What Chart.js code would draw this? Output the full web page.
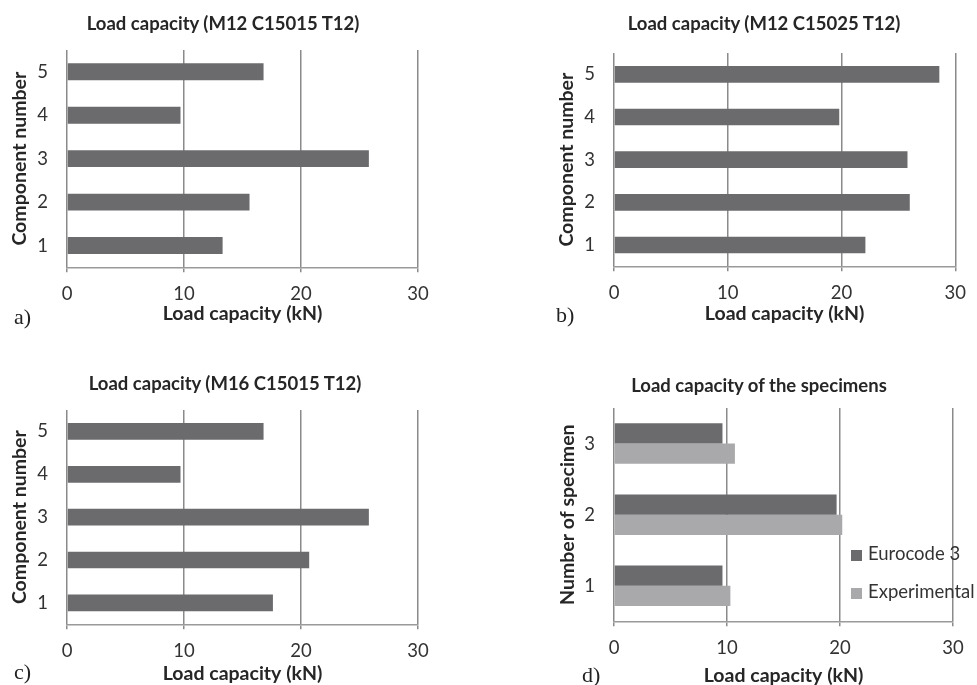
<!DOCTYPE html>
<html lang="en">
<head>
    <meta charset="UTF-8" />
    <title>Load capacity</title>
    <script src="https://cdn.jsdelivr.net/npm/chart.js"></script>
    <style>
        body {
            margin: 0;
            width: 977px;
            height: 685px;
            position: relative;
            overflow: hidden;
            background: #fff;
            font-family: Lato, sans-serif;
        }
        canvas { position: absolute; }
        .title {
            position: absolute;
            transform: translate(-50%, -50%);
            font: bold 18.5px Lato, sans-serif;
            color: #262626;
            white-space: nowrap;
            z-index: 2;
        }
        .panel {
            position: absolute;
            transform: translateY(-50%);
            font: 22px "Liberation Serif", serif;
            color: #222;
        }
        .legend-item {
            position: absolute;
            font: 18.5px Lato, sans-serif;
            color: #333;
            white-space: nowrap;
            transform: translateY(-50%);
            z-index: 2;
        }
        .legend-item span {
            display: inline-block;
            width: 11px;
            height: 11px;
            margin-right: 6px;
            vertical-align: -1px;
        }
    </style>
</head>
<body>
<script>
    // data
    const components = ['1', '2', '3', '4', '5'];
    const capacityM12C15015 = [13.3, 15.6, 25.8, 9.7, 16.8];
    const capacityM12C15025 = [22.1, 26.0, 25.8, 19.8, 28.6];
    const capacityM16C15015 = [17.6, 20.7, 25.8, 9.7, 16.8];

    const specimens = ['1', '2', '3'];
    const eurocode = [9.6, 19.7, 9.6];
    const experimental = [10.3, 20.2, 10.7];
    const seriesNames = ['Eurocode 3', 'Experimental'];

    const xTicks = [0, 10, 20, 30];

    const DARK = '#6b6b6e';
    const LIGHT = '#a9a9ab';
    const GRID = '#8a8a8a';
    const TITLE_SIZE = 19.5;
    const LH = TITLE_SIZE * 1.2; // axis title line height

    function addText(cls, text, x, y) {
        const d = document.createElement('div');
        d.className = cls;
        d.textContent = text;
        d.style.left = x + 'px';
        d.style.top = y + 'px';
        document.body.appendChild(d);
        return d;
    }

    function makeChart(p) {
        const cx = p.cx, cw = p.cw;
        const cy = p.plot.t - 40;
        const ch = Math.ceil(p.xTitleY + LH / 2 - cy);
        const padLeft = p.yTitleX - LH / 2 - cx;
        const yWidth = p.plot.l - cx - padLeft;
        const xHeight = p.xTitleY + LH / 2 - p.plot.b;

        const canvas = document.createElement('canvas');
        canvas.width = cw;
        canvas.height = ch;
        canvas.style.left = cx + 'px';
        canvas.style.top = cy + 'px';
        document.body.appendChild(canvas);

        new Chart(canvas, {
            type: 'bar',
            data: { labels: p.labels, datasets: p.datasets },
            options: {
                indexAxis: 'y',
                responsive: false,
                animation: false,
                devicePixelRatio: 1,
                layout: {
                    padding: { left: padLeft, top: 40, right: cx + cw - p.plot.r, bottom: 0 }
                },
                plugins: { legend: { display: false }, tooltip: { enabled: false } },
                scales: {
                    x: {
                        min: 0,
                        max: 30,
                        afterBuildTicks: s => { s.ticks = xTicks.map(v => ({ value: v })); },
                        afterFit: s => { s.height = xHeight; },
                        grid: { color: GRID, lineWidth: 1.5, tickLength: 5 },
                        border: { display: true, color: '#9a9a9a', width: 1.5 },
                        ticks: { padding: 11, color: '#333', font: { family: 'Lato', size: 18.5 } },
                        title: {
                            display: true,
                            text: 'Load capacity (kN)',
                            color: '#262626',
                            padding: 0,
                            font: { family: 'Lato', size: TITLE_SIZE, weight: 'bold', lineHeight: 1.2 }
                        }
                    },
                    y: {
                        reverse: true,
                        afterFit: s => { s.width = yWidth; },
                        grid: { display: false, drawTicks: false },
                        border: { display: false },
                        ticks: { padding: 19, color: '#333', font: { family: 'Lato', size: 18.5 } },
                        title: {
                            display: true,
                            text: p.yTitle,
                            color: '#262626',
                            padding: 0,
                            font: { family: 'Lato', size: TITLE_SIZE, weight: 'bold', lineHeight: 1.2 }
                        }
                    }
                }
            }
        });

        addText('title', p.title, p.titlePos[0], p.titlePos[1]);
        addText('panel', p.panel, p.panelPos[0], p.panelPos[1]);
    }

    function single(values) {
        return [{
            label: 'Load capacity',
            data: values,
            backgroundColor: DARK,
            borderWidth: 0,
            barPercentage: 0.39,
            categoryPercentage: 1
        }];
    }

    makeChart({
        title: 'Load capacity (M12 C15015 T12)', titlePos: [223, 23],
        panel: 'a)', panelPos: [14, 317],
        cx: 0, cw: 480, plot: { l: 67, t: 50, r: 418, b: 267 },
        yTitleX: 20, xTitleY: 313, yTitle: 'Component number',
        labels: components, datasets: single(capacityM12C15015)
    });

    makeChart({
        title: 'Load capacity (M12 C15025 T12)', titlePos: [764, 23],
        panel: 'b)', panelPos: [556, 315],
        cx: 540, cw: 437, plot: { l: 614, t: 53, r: 962, b: 266 },
        yTitleX: 567, xTitleY: 313, yTitle: 'Component number',
        labels: components, datasets: single(capacityM12C15025)
    });

    makeChart({
        title: 'Load capacity (M16 C15015 T12)', titlePos: [225, 383],
        panel: 'c)', panelPos: [14, 672],
        cx: 0, cw: 480, plot: { l: 67, t: 410, r: 418, b: 624 },
        yTitleX: 20, xTitleY: 673, yTitle: 'Component number',
        labels: components, datasets: single(capacityM16C15015)
    });

    makeChart({
        title: 'Load capacity of the specimens', titlePos: [759, 385],
        panel: 'd)', panelPos: [582, 675],
        cx: 540, cw: 437, plot: { l: 614, t: 408, r: 953, b: 621 },
        yTitleX: 568, xTitleY: 675, yTitle: 'Number of specimen',
        labels: specimens,
        datasets: [
            { label: seriesNames[0], data: eurocode, backgroundColor: DARK, borderWidth: 0, barPercentage: 1, categoryPercentage: 0.57 },
            { label: seriesNames[1], data: experimental, backgroundColor: LIGHT, borderWidth: 0, barPercentage: 1, categoryPercentage: 0.57 }
        ]
    });

    // legend of chart d, overlapping the plot as in the figure
    [[seriesNames[0], DARK, 553], [seriesNames[1], LIGHT, 591]].forEach(([name, color, y]) => {
        const item = addText('legend-item', name, 851, y);
        const box = document.createElement('span');
        box.style.background = color;
        item.prepend(box);
    });
</script>
</body>
</html>
